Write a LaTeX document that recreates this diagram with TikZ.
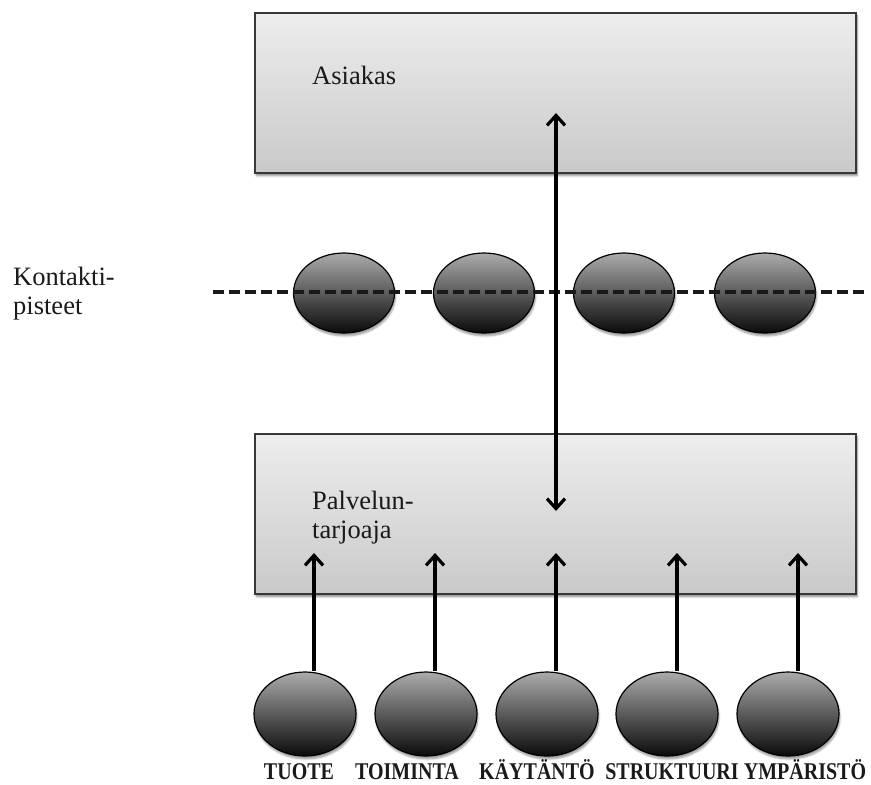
\documentclass[tikz,border=0pt]{standalone}
\usepackage{fontspec}
\setmainfont{Liberation Serif}
\usetikzlibrary{arrows.meta,shapes.geometric,shadows.blur}
\definecolor{txt}{HTML}{1A1A1A}
\newcommand{\tallcap}[1]{\scalebox{1}[1.2]{#1}}
\begin{document}
\begin{tikzpicture}[x=1pt,y=-1pt,
  panel/.style={draw=black!78, line width=1.5pt, top color=black!7, bottom color=black!21,
    inner sep=0pt, minimum width=601pt, minimum height=160pt, anchor=north west,
    blur shadow={shadow xshift=1.5pt, shadow yshift=-3pt, shadow blur steps=6, shadow opacity=45}},
  blob/.style={ellipse, draw=black, line width=1.2pt, top color=black!33, bottom color=black!96,
    inner sep=0pt,
    blur shadow={shadow xshift=1pt, shadow yshift=-3pt, shadow blur steps=5, shadow opacity=40}},
  contactblob/.style={blob, minimum width=101pt, minimum height=80pt},
  srcblob/.style={blob, minimum width=102pt, minimum height=84pt},
  lbl/.style={font=\fontsize{26.5}{28.5}\selectfont, text=txt, align=left, inner sep=0pt, anchor=base west},
  caplabel/.style={font=\bfseries\fontsize{20}{24}\selectfont, text=txt, inner sep=0pt, anchor=base},
  barb/.tip={Straight Barb[length=10pt,width=18pt]},
  arr/.style={line width=3.2pt, -barb},
  darr/.style={line width=3.2pt, barb-barb},
  dashline/.style={line width=4pt, dash pattern=on 10.5pt off 5.5pt, black!90}
]
\useasboundingbox (0,0) rectangle (871,785);

% boxes
\node[panel] (asiakas) at (254,12) {};
\node[panel] (palv) at (254,433) {};
\node[lbl] (asiakastxt) at (312,84) {Asiakas};
\node[lbl] (palvtxt) at (312,538) {Palvelun-\\tarjoaja};

% contact points
\node[lbl] (kontakti) at (13,314) {Kontakti-\\pisteet};
\node[contactblob] (k1) at (344,293) {};
\node[contactblob] (k2) at (484,293) {};
\node[contactblob] (k3) at (624,293) {};
\node[contactblob] (k4) at (765,293) {};
\coordinate (dl) at (213,292);
\coordinate (dr) at (866,292);
\draw[dashline] (dl) -- (dr);

% bottom sources
\node[srcblob] (b1) at (305,714) {};
\node[srcblob] (b2) at (426,714) {};
\node[srcblob] (b3) at (547,714) {};
\node[srcblob] (b4) at (667,714) {};
\node[srcblob] (b5) at (788,714) {};

\node[caplabel] (l1) at (299,779) {\tallcap{TUOTE}};
\node[caplabel] (l2) at (407,779) {\tallcap{TOIMINTA}};
\node[caplabel] (l3) at (537,779) {\tallcap{KÄYTÄNTÖ}};
\node[caplabel] (l4) at (672,779) {\tallcap{STRUKTUURI}};
\node[caplabel] (l5) at (805,779) {\tallcap{YMPÄRISTÖ}};

% arrow ends
\coordinate (ct) at (556,113);
\coordinate (cb) at (556,511);
\coordinate (t1) at (314,553);
\coordinate (t2) at (435,553);
\coordinate (t3) at (556,553);
\coordinate (t4) at (677,553);
\coordinate (t5) at (798,553);

\draw[darr] (ct) -- (cb);
\draw[arr] (b1.north -| t1) -- (t1);
\draw[arr] (b2.north -| t2) -- (t2);
\draw[arr] (b3.north -| t3) -- (t3);
\draw[arr] (b4.north -| t4) -- (t4);
\draw[arr] (b5.north -| t5) -- (t5);
\end{tikzpicture}
\end{document}
